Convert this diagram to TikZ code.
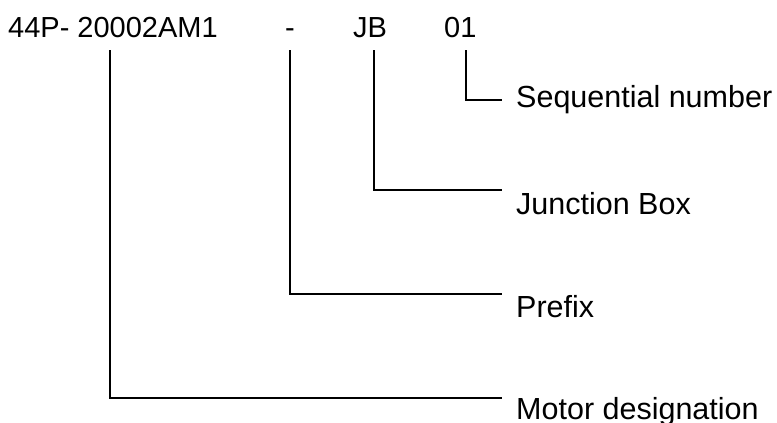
\documentclass[tikz,border=0pt]{standalone}
\usepackage{fontspec}
\setmainfont{Liberation Sans}
\begin{document}
\begin{tikzpicture}[x=1pt,y=-1pt,
  code/.style={inner sep=0pt,anchor=base west,font=\fontsize{29}{31}\selectfont},
  lab/.style={inner sep=0pt,anchor=base west,font=\fontsize{30.5}{32}\selectfont},
  conn/.style={draw=black,line width=1.9pt,line join=miter}]
\useasboundingbox (0,0) rectangle (777,423);
% top code pieces
\node[code] (c1) at (8,37) {44P- 20002AM1};
\node[code] (c2) at (285,37) {-};
\node[code] (c3) at (353,37) {JB};
\node[code] (c4) at (444,37) {01};
% labels
\node[lab] (l4) at (516,107) {Sequential number};
\node[lab] (l3) at (516,214) {Junction Box};
\node[lab] (l2) at (516,317) {Prefix};
\node[lab] (l1) at (516,419) {Motor designation};
% connector start and end points
\coordinate (s1) at (110,50);
\coordinate (s2) at (290,50);
\coordinate (s3) at (374,50);
\coordinate (s4) at (466,50);
\coordinate (e4) at (502,100);
\coordinate (e3) at (502,190);
\coordinate (e2) at (502,294);
\coordinate (e1) at (502,398);
\draw[conn] (s4) |- (e4);
\draw[conn] (s3) |- (e3);
\draw[conn] (s2) |- (e2);
\draw[conn] (s1) |- (e1);
\end{tikzpicture}
\end{document}
